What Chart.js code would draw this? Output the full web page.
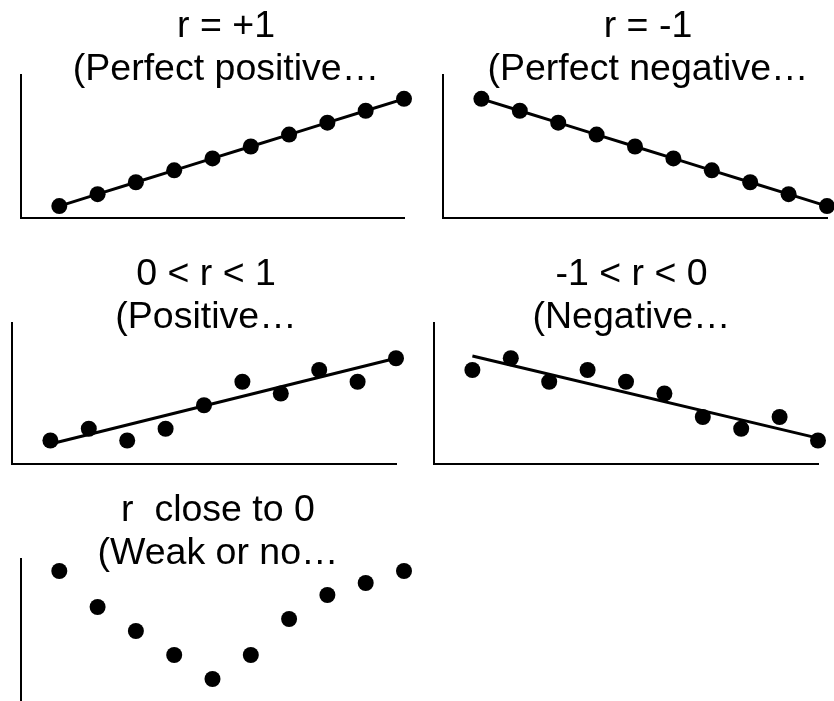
<!DOCTYPE html>
<html>
<head>
<meta charset="utf-8">
<script src="https://cdn.jsdelivr.net/npm/chart.js@4.4.1/dist/chart.umd.min.js"></script>
<style>
  html, body { margin: 0; padding: 0; background: #fff; overflow: hidden; }
  body { width: 834px; height: 701px; position: relative; }
  canvas { position: absolute; }
</style>
</head>
<body>
<canvas id="perfect_pos" width="452" height="226" style="left:0px;top:0px"></canvas>
<canvas id="perfect_neg" width="456" height="226" style="left:420px;top:0px"></canvas>
<canvas id="pos" width="412" height="224" style="left:0px;top:248px"></canvas>
<canvas id="neg" width="423" height="224" style="left:420px;top:248px"></canvas>
<canvas id="none" width="436" height="227" style="left:0px;top:484px"></canvas>
<script>
const xValues = [1, 2, 3, 4, 5, 6, 7, 8, 9, 10];
const perfectPositive = [1, 2, 3, 4, 5, 6, 7, 8, 9, 10];
const perfectNegative = [10, 9, 8, 7, 6, 5, 4, 3, 2, 1];
const positive = [2, 3, 2, 3, 5, 7, 6, 8, 7, 9];
const positiveFit = [1.7, 9.0];
const negative = [8, 9, 7, 8, 7, 6, 4, 3, 4, 2];
const negativeFit = [9.2, 2.2];
const noCorrelation = [11, 8, 6, 4, 2, 4, 7, 9, 10, 11];

const titlePerfectPos = ['r = +1', '(Perfect positive…'];
const titlePerfectNeg = ['r = -1', '(Perfect negative…'];
const titlePos = ['0 < r < 1', '(Positive…'];
const titleNeg = ['-1 < r < 0', '(Negative…'];
const titleNone = ['r  close to 0', '(Weak or no…'];

const FONT = "'Liberation Sans', Arial, Helvetica, sans-serif";

function toPoints(ys) {
    return ys.map((y, i) => ({x: xValues[i], y: y}));
}

function fitPoints(ends) {
    return [{x: xValues[0], y: ends[0]}, {x: xValues[xValues.length - 1], y: ends[1]}];
}

function dots(ys, withLine) {
    return {
        data: toPoints(ys),
        showLine: withLine,
        borderColor: '#000',
        borderWidth: 3,
        backgroundColor: '#000',
        pointRadius: 8,
        pointBorderWidth: 0,
        clip: false
    };
}

function fitLine(ends) {
    return {
        data: fitPoints(ends),
        showLine: true,
        borderColor: '#000',
        borderWidth: 3,
        pointRadius: 0,
        clip: false
    };
}

function plainAxis() {
    return {
        type: 'linear',
        display: true,
        grid: {display: false, drawTicks: false},
        ticks: {display: false},
        border: {display: true, color: '#000', width: 2}
    };
}

function makeChart(id, title, datasets, leftWidth, rightWidth) {
    const ctx = document.getElementById(id).getContext('2d');
    const x = plainAxis();
    x.min = 0;
    x.max = 10;
    x.afterFit = s => { s.height = 3; };
    const y = plainAxis();
    y.min = 0;
    y.max = 12;
    y.afterFit = s => { s.width = leftWidth; };
    return new Chart(ctx, {
        type: 'scatter',
        data: {datasets: datasets},
        options: {
            responsive: false,
            animation: false,
            events: [],
            layout: {padding: 0},
            plugins: {
                legend: {display: false},
                tooltip: {enabled: false},
                title: {
                    display: true,
                    text: title,
                    color: '#000',
                    font: {family: FONT, size: 37.5, weight: 'normal', lineHeight: 1.147},
                    padding: {top: 5, bottom: -16}
                }
            },
            scales: {
                x: x,
                y: y,
                pad: {
                    type: 'linear',
                    position: 'right',
                    display: true,
                    grid: {display: false, drawTicks: false},
                    ticks: {display: false},
                    border: {display: false},
                    afterFit: s => { s.width = rightWidth; }
                }
            }
        }
    });
}

makeChart('perfect_pos', titlePerfectPos, [dots(perfectPositive, true)], 21, 48);
makeChart('perfect_neg', titlePerfectNeg, [dots(perfectNegative, true)], 23, 49);
makeChart('pos', titlePos, [dots(positive, false), fitLine(positiveFit)], 12, 16);
makeChart('neg', titleNeg, [dots(negative, false), fitLine(negativeFit)], 14, 25);
makeChart('none', titleNone, [dots(noCorrelation, false)], 21, 32);
</script>
</body>
</html>
